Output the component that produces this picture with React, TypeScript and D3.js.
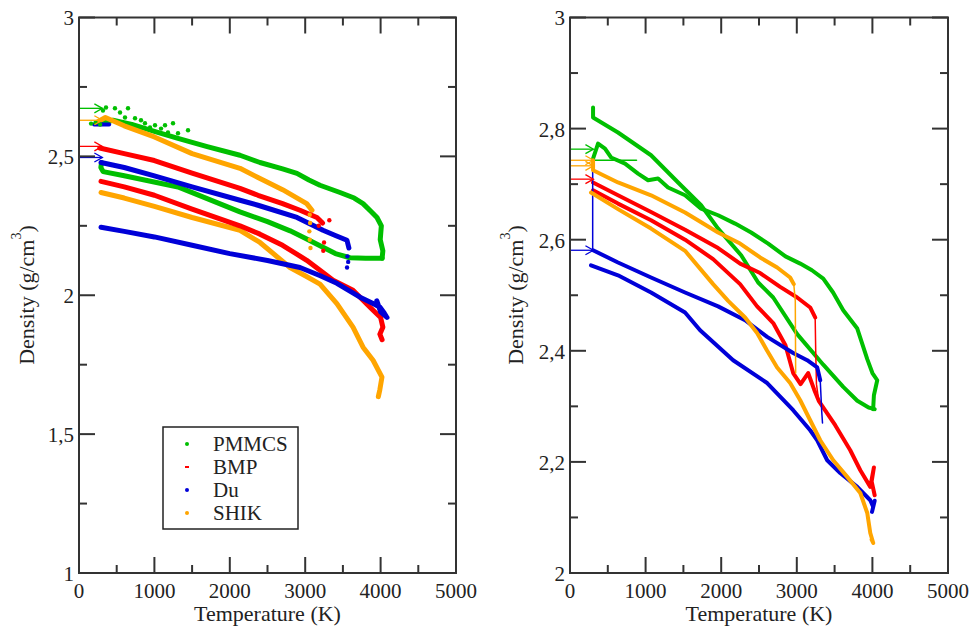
import React from 'react'
import * as d3 from 'd3'

type Pt = [number, number]

// colours (xmgrace-like)
const COLORS: Record<string, string> = {
  PMMCS: '#00bf00',
  BMP: '#ff0000',
  Du: '#0000d8',
  SHIK: '#ffa500',
}
const seriesNames = ['PMMCS', 'BMP', 'Du', 'SHIK']

// ticks
const xMajor = [0, 1000, 2000, 3000, 4000, 5000]
const xMinor = [500, 1500, 2500, 3500, 4500]
const leftYMajor = [1, 1.5, 2, 2.5, 3]
const leftYMinor = [1.25, 1.75, 2.25, 2.75]
const rightYMajor = [2, 2.2, 2.4, 2.6, 2.8, 3]
const rightYMinor = [2.1, 2.3, 2.5, 2.7, 2.9]

// ---- left panel data (T in K, density in g/cm3) ----
const leftPmmcsUpper: Pt[] = [[300, 2.62], [450, 2.63], [700, 2.615], [1000, 2.59], [1313, 2.565], [1700, 2.535], [2135, 2.504], [2400, 2.478], [2700, 2.455], [2891, 2.439], [3050, 2.415], [3196, 2.396], [3462, 2.37], [3650, 2.35], [3767, 2.33], [3880, 2.3], [3952, 2.28], [4010, 2.25], [3995, 2.2], [4030, 2.16], [4020, 2.133]]
const leftPmmcsLower: Pt[] = [[4020, 2.133], [3800, 2.133], [3594, 2.135], [3400, 2.15], [3236, 2.173], [3000, 2.205], [2800, 2.232], [2500, 2.265], [2135, 2.3], [1313, 2.39], [600, 2.43], [320, 2.445], [290, 2.46], [300, 2.478]]
const leftPmmcsScatter: Pt[] = [[318, 2.665], [358, 2.676], [477, 2.673], [544, 2.658], [650, 2.673], [610, 2.64], [743, 2.637], [822, 2.63], [875, 2.619], [942, 2.604], [1008, 2.612], [1088, 2.6], [1141, 2.612], [1247, 2.619], [1180, 2.586], [1313, 2.583], [1446, 2.594], [160, 2.618], [220, 2.622], [280, 2.615]]
const leftBmpUpper: Pt[] = [[275, 2.53], [600, 2.51], [1000, 2.485], [1500, 2.44], [2135, 2.385], [2374, 2.36], [2700, 2.33], [2931, 2.306], [3156, 2.28], [3230, 2.26]]
const leftBmpLower: Pt[] = [[292, 2.41], [600, 2.39], [1000, 2.36], [1500, 2.31], [2135, 2.25], [2400, 2.22], [2700, 2.18], [3020, 2.126], [3196, 2.09], [3370, 2.054], [3634, 2.018], [3860, 1.957], [4000, 1.92], [4030, 1.885], [3990, 1.86], [4020, 1.84]]
const leftBmpScatter: Pt[] = [[3180, 2.25], [3250, 2.19], [3240, 2.16], [3320, 2.27]]
const leftDuUpper: Pt[] = [[292, 2.478], [600, 2.46], [1000, 2.43], [1500, 2.39], [2135, 2.342], [2374, 2.324], [2891, 2.28], [3236, 2.234], [3400, 2.215], [3554, 2.198], [3580, 2.17]]
const leftDuLower: Pt[] = [[292, 2.245], [600, 2.23], [1000, 2.21], [1500, 2.18], [2000, 2.15], [2500, 2.125], [2931, 2.1], [3200, 2.07], [3420, 2.043], [3727, 1.993], [3900, 1.97], [3992, 1.957], [4050, 1.935], [4085, 1.92], [4000, 1.94], [3950, 1.98]]
const leftDuTop: Pt[] = [[200, 2.615], [300, 2.615], [400, 2.615]]
const leftDuScatter: Pt[] = [[3560, 2.14], [3570, 2.12], [3555, 2.1]]
const leftShikUpper: Pt[] = [[250, 2.625], [350, 2.64], [600, 2.61], [1000, 2.57], [1500, 2.51], [2135, 2.457], [2374, 2.424], [2700, 2.38], [3020, 2.33], [3090, 2.306]]
const leftShikLower: Pt[] = [[292, 2.37], [600, 2.35], [1000, 2.32], [1500, 2.28], [2135, 2.234], [2400, 2.19], [2798, 2.1], [3000, 2.07], [3196, 2.04], [3420, 1.97], [3634, 1.885], [3767, 1.813], [3900, 1.766], [4018, 1.705], [3990, 1.66], [3970, 1.635]]
const leftShikScatter: Pt[] = [[3060, 2.29], [3065, 2.26], [3055, 2.23], [3060, 2.2], [3070, 2.17]]
const leftArrows: [string, number][] = [['PMMCS', 2.673], ['SHIK', 2.63], ['BMP', 2.536], ['Du', 2.496]]

// ---- right panel data ----
const rightPmmcsSteep: Pt[] = [[305, 2.838], [305, 2.82], [635, 2.793], [1072, 2.752], [1430, 2.703], [1734, 2.662], [1959, 2.62], [2264, 2.572], [2489, 2.523], [2688, 2.496], [3005, 2.43], [3350, 2.375], [3614, 2.335], [3800, 2.31], [3950, 2.298], [4030, 2.295]]
const rightPmmcsWiggly: Pt[] = [[305, 2.746], [371, 2.773], [463, 2.764], [543, 2.748], [728, 2.737], [900, 2.719], [1033, 2.707], [1165, 2.71], [1297, 2.694], [1522, 2.68], [1734, 2.656], [1959, 2.644], [2184, 2.629], [2396, 2.613], [2621, 2.593], [2850, 2.57], [3045, 2.557], [3200, 2.545], [3350, 2.53], [3480, 2.505], [3614, 2.473], [3800, 2.44], [3932, 2.385], [4000, 2.36], [4064, 2.347], [4020, 2.32], [4010, 2.295]]
const rightPmmcsFlat: Pt[] = [[290, 2.743], [880, 2.743]]
const rightBmpUpper: Pt[] = [[305, 2.703], [635, 2.68], [1072, 2.65], [1522, 2.618], [1959, 2.585], [2250, 2.557], [2515, 2.54], [2780, 2.515], [3005, 2.496], [3177, 2.478], [3243, 2.46]]
const rightBmpDrop: Pt[] = [[3243, 2.46], [3250, 2.4], [3260, 2.34], [3290, 2.31]]
const rightBmpLower: Pt[] = [[305, 2.689], [635, 2.665], [1072, 2.635], [1522, 2.6], [1893, 2.565], [2250, 2.52], [2475, 2.48], [2688, 2.45], [2850, 2.41], [2952, 2.36], [3050, 2.34], [3150, 2.36], [3230, 2.33], [3290, 2.31], [3508, 2.266], [3707, 2.221], [3840, 2.185], [3972, 2.155], [4020, 2.19], [3990, 2.165], [4030, 2.14]]
const rightDuStep: Pt[] = [[300, 2.743], [300, 2.581]]
const rightDuUpper: Pt[] = [[305, 2.581], [635, 2.559], [1072, 2.532], [1522, 2.505], [1959, 2.48], [2316, 2.455], [2608, 2.425], [2952, 2.396], [3137, 2.383], [3270, 2.37], [3310, 2.347]]
const rightDuDrop: Pt[] = [[3310, 2.347], [3330, 2.29], [3340, 2.27]]
const rightDuLower: Pt[] = [[278, 2.554], [635, 2.536], [1072, 2.505], [1522, 2.469], [1721, 2.437], [2158, 2.383], [2608, 2.342], [2952, 2.293], [3177, 2.257], [3270, 2.239], [3402, 2.203], [3574, 2.18], [3800, 2.155], [3972, 2.131], [4011, 2.119], [4030, 2.13], [3995, 2.11]]
const rightShikUpper: Pt[] = [[305, 2.743], [305, 2.725], [635, 2.703], [1072, 2.68], [1522, 2.649], [1959, 2.613], [2250, 2.593], [2515, 2.568], [2740, 2.55], [2912, 2.532], [2960, 2.52]]
const rightShikDrop: Pt[] = [[2960, 2.52], [2980, 2.49], [2985, 2.36]]
const rightShikLower: Pt[] = [[278, 2.685], [635, 2.655], [1072, 2.62], [1522, 2.58], [1893, 2.52], [2092, 2.49], [2316, 2.46], [2475, 2.432], [2608, 2.4], [2740, 2.37], [2912, 2.342], [3045, 2.311], [3177, 2.275], [3310, 2.239], [3482, 2.203], [3667, 2.173], [3840, 2.144], [3932, 2.108], [3972, 2.072], [4011, 2.054], [3990, 2.06]]
const rightArrows: [string, number][] = [['PMMCS', 2.763], ['SHIK', 2.743], ['SHIK', 2.733], ['BMP', 2.709], ['Du', 2.581]]

const FONT = 'Liberation Serif'
const TOP = 17.5
const BOTTOM = 573

type Band = { name: string; pts: Pt[]; w: number }

const fmt = (v: number) => String(v).replace('.', ',')

const Panel = (props: any) => {
  const { x0, x1, yDomain, yMajor, yMinor, bands, dots, arrows, titleX, legend } = props
  const x = d3.scaleLinear().domain([0, 5000]).range([x0, x1])
  const y = d3.scaleLinear().domain(yDomain).range([BOTTOM, TOP])
  const line = d3.line<Pt>().x(d => x(d[0])).y(d => y(d[1]))

  return (
    <g>
      {/* data */}
      {bands.map((b: Band, i: number) => (
        <path key={'b' + i} d={line(b.pts) || ''} fill="none" stroke={COLORS[b.name]}
          strokeWidth={b.w} strokeLinejoin="round" strokeLinecap="round" />
      ))}
      {dots.map((dset: { name: string; pts: Pt[] }, i: number) =>
        dset.pts.map((p, j) => (
          <circle key={'d' + i + '-' + j} cx={x(p[0])} cy={y(p[1])} r={2.2} fill={COLORS[dset.name]} />
        ))
      )}
      {/* arrows */}
      {arrows.map((a: [string, number], i: number) => {
        const yy = y(a[1])
        const tip = x(310)
        return (
          <g key={'a' + i} stroke={COLORS[a[0]]} strokeWidth={1.3} fill="none">
            <line x1={x(0)} x2={tip} y1={yy} y2={yy} />
            <path d={`M${tip - 8},${yy - 4.5} L${tip},${yy} L${tip - 8},${yy + 4.5}`} />
          </g>
        )
      })}
      {/* frame */}
      <rect x={x0} y={TOP} width={x1 - x0} height={BOTTOM - TOP} fill="none" stroke="#333" strokeWidth={2} />
      {/* ticks */}
      <g stroke="#333" strokeWidth={2}>
        {xMajor.map(v => (
          <g key={'xm' + v}>
            <line x1={x(v)} x2={x(v)} y1={BOTTOM} y2={BOTTOM - 16} />
            <line x1={x(v)} x2={x(v)} y1={TOP} y2={TOP + 16} />
          </g>
        ))}
        {xMinor.map(v => (
          <g key={'xn' + v}>
            <line x1={x(v)} x2={x(v)} y1={BOTTOM} y2={BOTTOM - 8} />
            <line x1={x(v)} x2={x(v)} y1={TOP} y2={TOP + 8} />
          </g>
        ))}
        {yMajor.map((v: number) => (
          <g key={'ym' + v}>
            <line x1={x0} x2={x0 + 16} y1={y(v)} y2={y(v)} />
            <line x1={x1} x2={x1 - 16} y1={y(v)} y2={y(v)} />
          </g>
        ))}
        {yMinor.map((v: number) => (
          <g key={'yn' + v}>
            <line x1={x0} x2={x0 + 8} y1={y(v)} y2={y(v)} />
            <line x1={x1} x2={x1 - 8} y1={y(v)} y2={y(v)} />
          </g>
        ))}
      </g>
      {/* tick labels */}
      {xMajor.map(v => (
        <text key={'xl' + v} x={x(v)} y={BOTTOM + 25} textAnchor="middle" fontFamily={FONT} fontSize={21} fill="#222">{v}</text>
      ))}
      {yMajor.map((v: number) => (
        <text key={'yl' + v} x={x0 - 5} y={y(v)} dy="0.38em" textAnchor="end" fontFamily={FONT} fontSize={21} fill="#222">{fmt(v)}</text>
      ))}
      {/* axis titles */}
      <text x={(x0 + x1) / 2} y={621} textAnchor="middle" fontFamily={FONT} fontSize={22} fill="#222">Temperature (K)</text>
      <text transform={`translate(${titleX},295) rotate(-90)`} textAnchor="middle" fontFamily={FONT} fontSize={22} fill="#222">
        Density (g/cm<tspan fontSize={14} dy={-13}>3</tspan><tspan dy={13}>)</tspan>
      </text>
      {legend}
    </g>
  )
}

const Legend = () => {
  const lx = 163, ly = 427, lw = 135, lh = 102
  return (
    <g>
      <rect x={lx} y={ly} width={lw} height={lh} fill="white" stroke="#222" strokeWidth={1.5} />
      {seriesNames.map((s, i) => {
        const cy = 444 + i * 23
        return (
          <g key={s}>
            {s === 'BMP'
              ? <line x1={185} x2={189} y1={cy} y2={cy} stroke={COLORS[s]} strokeWidth={2} />
              : <circle cx={187} cy={cy} r={2} fill={COLORS[s]} />}
            <text x={213} y={cy + 7} fontFamily={FONT} fontSize={21} fill="#222">{s}</text>
          </g>
        )
      })}
    </g>
  )
}

export default function App() {
  const leftBands: Band[] = [
    { name: 'PMMCS', pts: leftPmmcsUpper, w: 5 },
    { name: 'PMMCS', pts: leftPmmcsLower, w: 5 },
    { name: 'SHIK', pts: leftShikUpper, w: 5 },
    { name: 'SHIK', pts: leftShikLower, w: 5 },
    { name: 'BMP', pts: leftBmpUpper, w: 5 },
    { name: 'BMP', pts: leftBmpLower, w: 5 },
    { name: 'Du', pts: leftDuUpper, w: 5 },
    { name: 'Du', pts: leftDuLower, w: 5 },
    { name: 'Du', pts: leftDuTop, w: 4 },
  ]
  const leftDots = [
    { name: 'PMMCS', pts: leftPmmcsScatter },
    { name: 'BMP', pts: leftBmpScatter },
    { name: 'Du', pts: leftDuScatter },
    { name: 'SHIK', pts: leftShikScatter },
  ]
  const rightBands: Band[] = [
    { name: 'PMMCS', pts: rightPmmcsSteep, w: 4 },
    { name: 'PMMCS', pts: rightPmmcsWiggly, w: 4 },
    { name: 'PMMCS', pts: rightPmmcsFlat, w: 1.5 },
    { name: 'BMP', pts: rightBmpUpper, w: 4 },
    { name: 'BMP', pts: rightBmpDrop, w: 1.5 },
    { name: 'BMP', pts: rightBmpLower, w: 4 },
    { name: 'Du', pts: rightDuStep, w: 1.5 },
    { name: 'Du', pts: rightDuUpper, w: 4 },
    { name: 'Du', pts: rightDuDrop, w: 1.5 },
    { name: 'Du', pts: rightDuLower, w: 4 },
    { name: 'SHIK', pts: rightShikUpper, w: 4 },
    { name: 'SHIK', pts: rightShikDrop, w: 1.5 },
    { name: 'SHIK', pts: rightShikLower, w: 4 },
  ]

  return (
    <svg width={973} height={628} style={{ position: 'absolute', left: 0, top: 0, background: 'white' }}>
      <Panel x0={79} x1={456} yDomain={[1, 3]} yMajor={leftYMajor} yMinor={leftYMinor}
        bands={leftBands} dots={leftDots} arrows={leftArrows} titleX={34} legend={<Legend />} />
      <Panel x0={570} x1={948} yDomain={[2, 3]} yMajor={rightYMajor} yMinor={rightYMinor}
        bands={rightBands} dots={[]} arrows={rightArrows} titleX={523} legend={null} />
    </svg>
  )
}
